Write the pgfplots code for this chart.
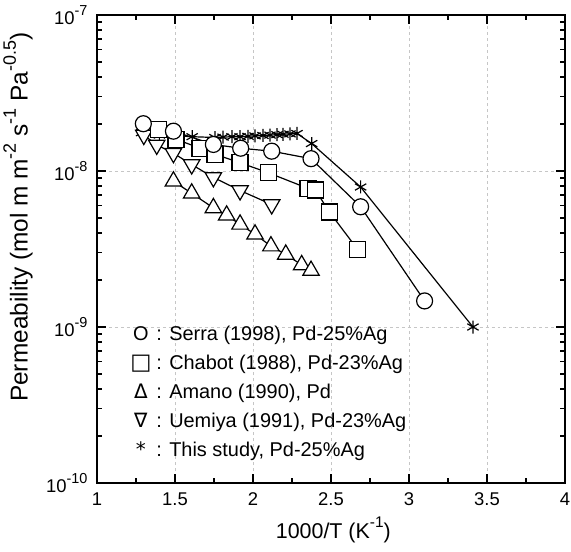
\documentclass[border=0pt]{standalone}
\usepackage{pgfplots}
\pgfplotsset{compat=1.18}
\usepackage{fontspec}
\setmainfont{Liberation Sans}
\newfontfamily\dejavu{DejaVu Sans}
\newcommand\tsup[1]{\raisebox{0.48em}{\fontsize{14.5}{15}\selectfont #1}}
\newcommand\xsup[1]{\raisebox{0.48em}{\fontsize{15.5}{16}\selectfont #1}}
\newcommand\ysup[1]{\raisebox{0.48em}{\fontsize{18}{18}\selectfont #1}}
\begin{document}
\begin{tikzpicture}
\useasboundingbox (-97bp,-69bp) rectangle (474bp,483bp);
\begin{axis}[
  at={(0,0)}, anchor=south west,
  scale only axis,
  width=468bp, height=468bp,
  xmin=1, xmax=4,
  ymode=log, ymin=1e-10, ymax=1e-7,
  xtick={1,1.5,2,2.5,3,3.5,4},
  xticklabels={1,1.5,2,2.5,3,3.5,4},
  minor x tick num=1,
  ytick={1e-10,1e-9,1e-8,1e-7},
  yticklabels={10\tsup{-10},10\tsup{-9},10\tsup{-8},10\tsup{-7}},
  tick align=inside,
  tick pos=both,
  major tick length=9bp,
  minor tick length=5bp,
  every tick/.style={line width=1.6bp, black},
  axis line style={line width=2.6bp},
  grid=major,
  major grid style={dashed, gray!45, line width=0.7bp},
  tick label style={font=\fontsize{18.5}{21}\selectfont},
  xticklabel style={yshift=-6bp},
  yticklabel style={xshift=-6bp},
  /pgf/number format/assume math mode=true,
  xlabel={1000/T (K\xsup{-1})},
  ylabel={Permeability (mol m m\ysup{-2} s\ysup{-1} Pa\ysup{-0.5})},
  xlabel style={font=\fontsize{21.5}{25}\selectfont, at={(axis description cs:0.505,-0.1004)}, anchor=center},
  ylabel style={font=\fontsize{24.5}{28}\selectfont, at={(axis description cs:-0.1688,0.568)}, anchor=center},
  clip=false,
]
% This study (asterisks)
\addplot[black, line width=1.2bp, mark=asterisk, mark size=6.5bp, mark options={line width=1.2bp}] coordinates {
(1.286,1.76e-8)(1.40,1.70e-8)(1.51,1.68e-8)(1.61,1.66e-8)(1.756,1.64e-8)(1.808,1.65e-8)(1.865,1.66e-8)(1.917,1.66e-8)(1.968,1.67e-8)(2.013,1.68e-8)(2.064,1.69e-8)(2.109,1.70e-8)(2.154,1.71e-8)(2.192,1.72e-8)(2.237,1.73e-8)(2.282,1.74e-8)(2.376,1.50e-8)(2.69,7.9e-9)(3.41,1.0e-9)};
% Uemiya (triangle down)
\addplot[black, line width=1.2bp, mark=triangle*, mark size=9.5bp, mark options={rotate=180, fill=white, line width=1.2bp}] coordinates {
(1.30,1.70e-8)(1.383,1.47e-8)(1.49,1.30e-8)(1.607,1.10e-8)(1.746,9.1e-9)(1.917,7.5e-9)(2.12,6.1e-9)};
% Amano (triangle up)
\addplot[black, line width=1.2bp, mark=triangle*, mark size=9.5bp, mark options={fill=white, line width=1.2bp}] coordinates {
(1.49,8.6e-9)(1.607,7.2e-9)(1.746,5.8e-9)(1.831,5.2e-9)(1.917,4.55e-9)(2.013,3.93e-9)(2.115,3.3e-9)(2.21,2.92e-9)(2.312,2.5e-9)(2.372,2.3e-9)};
% Chabot (squares)
\addplot[black, line width=1.2bp, mark=square*, mark size=8bp, mark options={fill=white, line width=1.2bp}] coordinates {
(1.393,1.85e-8)(1.506,1.60e-8)(1.66,1.40e-8)(1.756,1.28e-8)(1.917,1.13e-8)(2.098,9.75e-9)(2.352,7.74e-9)(2.40,7.55e-9)(2.49,5.46e-9)(2.67,3.15e-9)};
% Serra (circles)
\addplot[black, line width=1.2bp, mark=*, mark size=8bp, mark options={fill=white, line width=1.2bp}] coordinates {
(1.297,2.01e-8)(1.49,1.80e-8)(1.746,1.48e-8)(1.921,1.40e-8)(2.12,1.34e-8)(2.372,1.20e-8)(2.69,5.9e-9)(3.10,1.47e-9)};
% legend
\def\sym#1{\makebox[1.0em][c]{#1}}
\node[anchor=west, font=\fontsize{20}{23}\selectfont, inner sep=0pt] at (rel axis cs:0.072,0.316) {\sym{O} : Serra (1998), Pd-25\%Ag};
\node[anchor=west, font=\fontsize{20}{23}\selectfont, inner sep=0pt] at (rel axis cs:0.072,0.254) {\sym{\dejavu\fontsize{22.5}{23}\selectfont □} : Chabot (1988), Pd-23\%Ag};
\node[anchor=west, font=\fontsize{20}{23}\selectfont, inner sep=0pt] at (rel axis cs:0.072,0.192) {\sym{\dejavu Δ} : Amano (1990), Pd};
\node[anchor=west, font=\fontsize{20}{23}\selectfont, inner sep=0pt] at (rel axis cs:0.072,0.130) {\sym{\dejavu ∇} : Uemiya (1991), Pd-23\%Ag};
\node[anchor=west, font=\fontsize{20}{23}\selectfont, inner sep=0pt] at (rel axis cs:0.072,0.068) {\sym{\dejavu *} : This study, Pd-25\%Ag};
\end{axis}
\end{tikzpicture}
\end{document}
